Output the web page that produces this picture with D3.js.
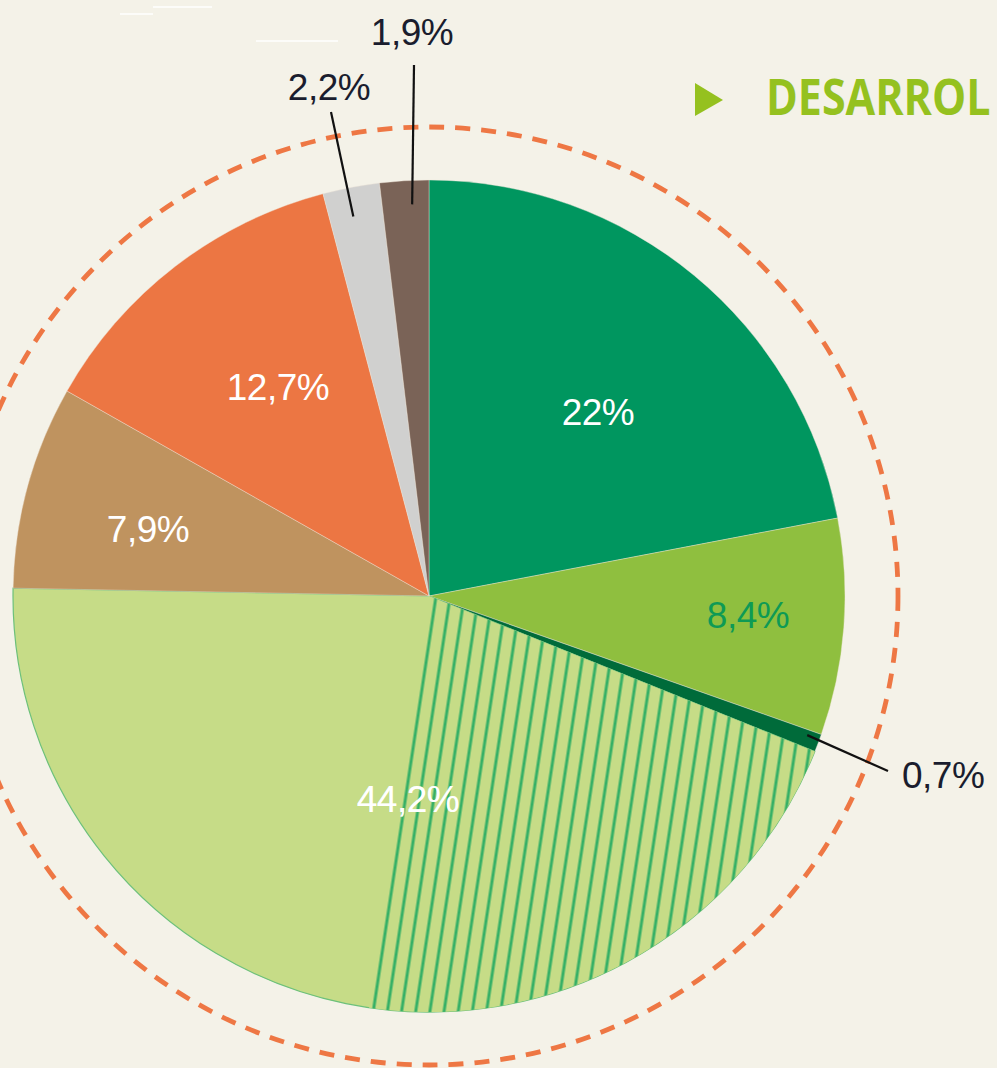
<!DOCTYPE html>
<html>
<head>
<meta charset="utf-8">
<script src="https://cdn.jsdelivr.net/npm/d3@7/dist/d3.min.js"></script>
<style>
  html, body { margin: 0; padding: 0; background: #F4F2E8; }
  svg { display: block; }
</style>
</head>
<body>
<svg id="chart" width="997" height="1068"></svg>
<script>
// ---- data ----
const labels = ["22%", "8,4%", "0,7%", "44,2%", "7,9%", "12,7%", "2,2%", "1,9%"];
const values = [22, 8.4, 0.7, 44.2, 7.9, 12.7, 2.2, 1.9];
const hatchedShare = 21.2;          // part of the 44,2% slice drawn hatched
const titleText = "DESARROL";

// ---- styles ----
const colors = ["#00965F", "#8FBF3F", "#006B3A", "#C6DC87", "#BF935F", "#EC7643", "#D0D0CF", "#7A6357"];
const labelColors = ["#FFFFFF", "#0E9A55", "#1A1D2E", "#FFFFFF", "#FFFFFF", "#FFFFFF", "#1A1D2E", "#1A1D2E"];
// label layout: [x, baseline y, anchor]
const labelPos = [
  [598, 425, "middle"], [748, 628, "middle"], [902, 788, "start"], [408, 812, "middle"],
  [148, 542, "middle"], [278, 400, "middle"], [329, 100, "middle"], [412, 45, "middle"]
];
// leader lines: slice index, fraction within slice, inner radius, outer end
const leaders = [
  {i: 2, f: 0.3, r: 403, to: [888, 771]},
  {i: 6, f: 0.44, r: 387, to: [331, 112]},
  {i: 7, f: 0.64, r: 392, to: [414, 65]}
];

const cx = 429, cy = 596, R = 416, Rdash = 469;
const svg = d3.select("#chart");

svg.append("rect").attr("width", 997).attr("height", 1068).attr("fill", "#F4F2E8");

// faint decorative white rules at top
[[153, 212, 7], [120, 153, 14], [256, 338, 41]].forEach(l => {
  svg.append("line").attr("x1", l[0]).attr("x2", l[1]).attr("y1", l[2]).attr("y2", l[2])
    .attr("stroke", "#FFFFFF").attr("stroke-width", 1.5);
});

// hatch pattern
const defs = svg.append("defs");
const pat = defs.append("pattern").attr("id", "hatch").attr("patternUnits", "userSpaceOnUse")
  .attr("width", 14).attr("height", 14).attr("patternTransform", "rotate(8.6)");
pat.append("rect").attr("width", 14).attr("height", 14).attr("fill", colors[3]);
pat.append("line").attr("x1", 7).attr("x2", 7).attr("y1", 0).attr("y2", 14)
  .attr("stroke", "#36B066").attr("stroke-width", 3);

const g = svg.append("g").attr("transform", `translate(${cx},${cy})`);

// dashed outer ring
g.append("circle").attr("r", Rdash).attr("fill", "none")
  .attr("stroke", "#EE7744").attr("stroke-width", 4.8).attr("stroke-dasharray", "15,11");

const pie = d3.pie().sort(null).value(d => d).startAngle(0).endAngle(2 * Math.PI);
const arcs = pie(values);
const arc = d3.arc().innerRadius(0).outerRadius(R);
const angle = d3.scaleLinear().domain([0, d3.sum(values)]).range([0, 2 * Math.PI]);

g.selectAll("path.slice").data(arcs).enter().append("path")
  .attr("class", "slice")
  .attr("d", arc)
  .attr("fill", (d, i) => colors[i])
  .attr("stroke", (d, i) => i === 3 ? "#6CC07A" : "#F0E6D8")
  .attr("stroke-width", (d, i) => i === 3 ? 1.2 : 0.4);

// labels (drawn before hatch so stripes run over the 44,2% label)
const lab = svg.append("g");
lab.selectAll("text").data(labels).enter().append("text")
  .attr("x", (d, i) => labelPos[i][0])
  .attr("y", (d, i) => labelPos[i][1])
  .attr("text-anchor", (d, i) => labelPos[i][2])
  .attr("fill", (d, i) => labelColors[i])
  .attr("font-family", "Liberation Sans, Arial, sans-serif")
  .attr("font-size", 37)
  .attr("letter-spacing", -0.5)
  .text(d => d);

// hatched part of 44,2% slice
const hs = arcs[3].startAngle;
g.append("path")
  .attr("d", d3.arc().innerRadius(0).outerRadius(R)({startAngle: hs, endAngle: hs + angle(hatchedShare)}))
  .attr("fill", "url(#hatch)");

// faint overlay of the 44,2% label so it stays readable over the stripes
svg.append("text")
  .attr("x", labelPos[3][0]).attr("y", labelPos[3][1])
  .attr("text-anchor", "middle").attr("fill", "#FFFFFF").attr("fill-opacity", 0.55)
  .attr("font-family", "Liberation Sans, Arial, sans-serif")
  .attr("font-size", 37).attr("letter-spacing", -0.5)
  .text(labels[3]);

// leader lines
leaders.forEach(l => {
  const a = arcs[l.i];
  const t = a.startAngle + (a.endAngle - a.startAngle) * l.f;
  const x1 = cx + l.r * Math.sin(t), y1 = cy - l.r * Math.cos(t);
  svg.append("line").attr("x1", x1).attr("y1", y1).attr("x2", l.to[0]).attr("y2", l.to[1])
    .attr("stroke", "#111111").attr("stroke-width", 2.2);
});

// title
svg.append("path").attr("d", "M695,83 L723,100 L695,116 Z").attr("fill", "#95C11F");
svg.append("text")
  .attr("transform", "translate(766,115) scale(1,1.15)")
  .attr("fill", "#95C11F")
  .attr("font-family", "Open Sans, sans-serif")
  .attr("font-weight", 700)
  .attr("font-size", 43)
  .text(titleText);
</script>
</body>
</html>
